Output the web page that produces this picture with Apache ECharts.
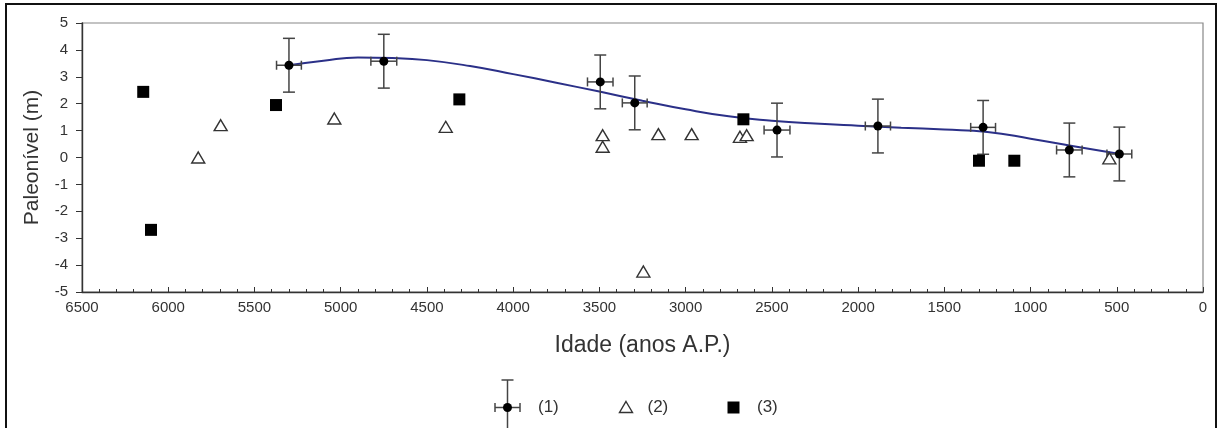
<!DOCTYPE html>
<html>
<head>
<meta charset="utf-8">
<script src="https://cdn.jsdelivr.net/npm/echarts@6/dist/echarts.min.js"></script>
<style>
html,body{margin:0;padding:0;background:#fff;}
#chart{width:1220px;height:428px;}
</style>
</head>
<body>
<div id="chart"></div>
<script>
// Series (1): indicators with error bars
const s1Age   = [5300, 4750, 3495, 3295, 2470, 1885, 1275, 775, 485];
const s1Level = [3.43, 3.58, 2.81, 2.03, 1.02, 1.17, 1.12, 0.28, 0.13];
const s1ErrAge   = [72, 75, 74, 72, 75, 73, 72, 74, 72];
const s1ErrLevel = [1, 1, 1, 1, 1, 1, 1, 1, 1];
// Fitted curve
const curveAge   = [5300, 5100, 4900, 4700, 4500, 4250, 4000, 3750, 3500, 3250, 3000, 2750, 2500, 2250, 2000, 1750, 1500, 1250, 1000, 750, 490];
const curveLevel = [3.43, 3.60, 3.72, 3.70, 3.62, 3.40, 3.10, 2.78, 2.45, 2.11, 1.79, 1.53, 1.37, 1.26, 1.18, 1.11, 1.04, 0.95, 0.70, 0.42, 0.14];
// Series (2): triangles
const s2Age   = [5826, 5696, 5037, 4391, 3481, 3481, 3158, 2965, 2685, 2646, 3245, 543];
const s2Level = [0.00, 1.20, 1.45, 1.14, 0.83, 0.40, 0.87, 0.87, 0.77, 0.83, -4.24, -0.03];
// Series (3): squares
const s3Age   = [6145, 5375, 6100, 4312, 2665, 1299, 1094];
const s3Level = [2.44, 1.95, -2.69, 2.16, 1.42, -0.12, -0.12];
// Axis ticks
const xTicks = [6500, 6000, 5500, 5000, 4500, 4000, 3500, 3000, 2500, 2000, 1500, 1000, 500, 0];
const yTicks = [-5, -4, -3, -2, -1, 0, 1, 2, 3, 4, 5];
const legendLabels = ['(1)', '(2)', '(3)'];

const zip = (a, b) => a.map((v, i) => [v, b[i]]);
const errData = s1Age.map((v, i) => [v, s1Level[i], s1ErrAge[i], s1ErrLevel[i]]);

const chart = echarts.init(document.getElementById('chart'), null, {renderer: 'canvas'});
const FONT = 'Liberation Sans, Arial, sans-serif';
const barColor = '#444';

function renderErr(params, api) {
  const x = api.value(0), y = api.value(1), ex = api.value(2), ey = api.value(3);
  const top = api.coord([x, y + ey]);
  const bot = api.coord([x, y - ey]);
  const l = api.coord([x + ex, y]);
  const r = api.coord([x - ex, y]);
  const st = {stroke: barColor, lineWidth: 1.5};
  const cw = 6, ch = 4.5;
  return {
    type: 'group',
    children: [
      {type: 'line', shape: {x1: top[0], y1: top[1], x2: bot[0], y2: bot[1]}, style: st},
      {type: 'line', shape: {x1: top[0] - cw, y1: top[1], x2: top[0] + cw, y2: top[1]}, style: st},
      {type: 'line', shape: {x1: bot[0] - cw, y1: bot[1], x2: bot[0] + cw, y2: bot[1]}, style: st},
      {type: 'line', shape: {x1: l[0], y1: l[1], x2: r[0], y2: r[1]}, style: st},
      {type: 'line', shape: {x1: l[0], y1: l[1] - ch, x2: l[0], y2: l[1] + ch}, style: st},
      {type: 'line', shape: {x1: r[0], y1: r[1] - ch, x2: r[0], y2: r[1] + ch}, style: st}
    ]
  };
}

const ly = 407.5;
const legendGraphic = [
  {type: 'rect', shape: {x: 6, y: 4, width: 1210, height: 440}, style: {fill: 'none', stroke: '#111', lineWidth: 2}, z: 100, silent: true},
  // legend (1)
  {type: 'line', shape: {x1: 507.5, y1: 380, x2: 507.5, y2: 430}, style: {stroke: barColor, lineWidth: 1.5}},
  {type: 'line', shape: {x1: 501.5, y1: 380, x2: 513.5, y2: 380}, style: {stroke: barColor, lineWidth: 1.5}},
  {type: 'line', shape: {x1: 495, y1: ly, x2: 520, y2: ly}, style: {stroke: barColor, lineWidth: 1.5}},
  {type: 'line', shape: {x1: 495, y1: ly - 4.5, x2: 495, y2: ly + 4.5}, style: {stroke: barColor, lineWidth: 1.5}},
  {type: 'line', shape: {x1: 520, y1: ly - 4.5, x2: 520, y2: ly + 4.5}, style: {stroke: barColor, lineWidth: 1.5}},
  {type: 'circle', shape: {cx: 507.5, cy: ly, r: 4.5}, style: {fill: '#000'}},
  {type: 'text', x: 538, y: ly, style: {text: legendLabels[0], font: '17px ' + FONT, fill: '#333', textVerticalAlign: 'middle'}},
  // legend (2)
  {type: 'polygon', shape: {points: [[626, ly - 6], [632.5, ly + 5], [619.5, ly + 5]]}, style: {fill: '#fff', stroke: '#333', lineWidth: 1.4}},
  {type: 'text', x: 647.5, y: ly, style: {text: legendLabels[1], font: '17px ' + FONT, fill: '#333', textVerticalAlign: 'middle'}},
  // legend (3)
  {type: 'rect', shape: {x: 727.5, y: ly - 6, width: 12, height: 12}, style: {fill: '#000'}},
  {type: 'text', x: 757, y: ly, style: {text: legendLabels[2], font: '17px ' + FONT, fill: '#333', textVerticalAlign: 'middle'}}
];

chart.setOption({
  animation: false,
  backgroundColor: '#fff',
  grid: {left: 82, right: 17, top: 23, bottom: 136, show: true, borderColor: '#888', borderWidth: 1.2, backgroundColor: 'transparent'},
  xAxis: {
    type: 'value', inverse: true, min: xTicks[xTicks.length - 1], max: xTicks[0], interval: 500,
    name: 'Idade (anos A.P.)', nameLocation: 'middle', nameGap: 42,
    nameTextStyle: {fontFamily: FONT, fontSize: 23, color: '#333'},
    axisLine: {show: true, onZero: false, lineStyle: {color: '#333', width: 1.4}},
    axisTick: {show: true, inside: true, length: 5, lineStyle: {color: '#333'}},
    minorTick: {show: true, splitNumber: 5, length: 3, lineStyle: {color: '#333'}},
    axisLabel: {fontFamily: FONT, fontSize: 15, color: '#333', margin: 8, formatter: v => String(v)},
    splitLine: {show: false}
  },
  yAxis: {
    type: 'value', min: yTicks[0], max: yTicks[yTicks.length - 1], interval: 1,
    name: 'Paleonível (m)', nameLocation: 'middle', nameGap: 39, nameRotate: 90,
    nameTextStyle: {fontFamily: FONT, fontSize: 21, color: '#333'},
    axisLine: {show: true, onZero: false, lineStyle: {color: '#333', width: 1.4}},
    axisTick: {show: true, inside: false, length: 6, lineStyle: {color: '#333'}},
    axisLabel: {fontFamily: FONT, fontSize: 15, color: '#333', margin: 14, formatter: v => String(v)},
    splitLine: {show: false}
  },
  series: [
    {type: 'line', name: 'curve', data: zip(curveAge, curveLevel), smooth: 0.5, showSymbol: false, symbol: 'none',
     lineStyle: {color: '#2b3088', width: 2}, z: 2},
    {type: 'custom', name: 'err', data: errData, renderItem: renderErr, z: 3},
    {type: 'scatter', name: '(1)', data: zip(s1Age, s1Level), symbol: 'circle', symbolSize: 9, itemStyle: {color: '#000', opacity: 1}, z: 4},
    {type: 'scatter', name: '(2)', data: zip(s2Age, s2Level), symbol: 'triangle', symbolSize: [13, 11],
     itemStyle: {color: '#fff', borderColor: '#333', borderWidth: 1.4, opacity: 1}, z: 4},
    {type: 'scatter', name: '(3)', data: zip(s3Age, s3Level), symbol: 'rect', symbolSize: 12, itemStyle: {color: '#000', opacity: 1}, z: 5}
  ],
  graphic: legendGraphic
});
</script>
</body>
</html>
